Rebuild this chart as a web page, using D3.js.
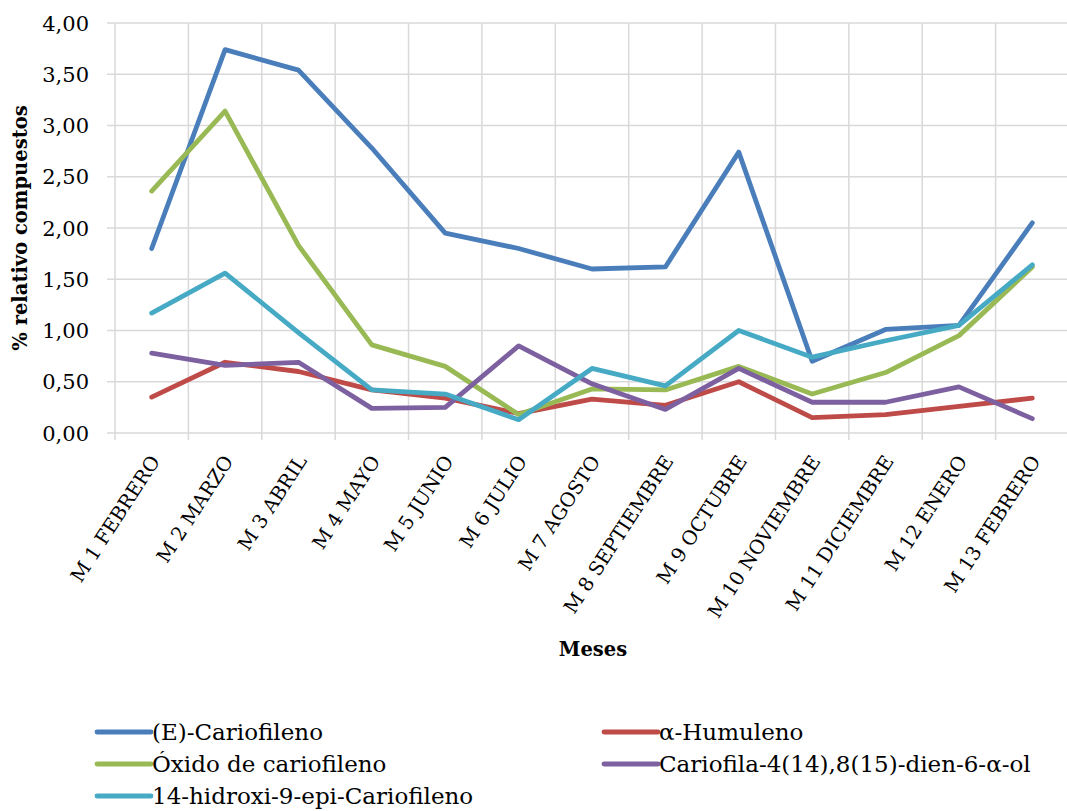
<!DOCTYPE html>
<html><head><meta charset="utf-8">
<script src="https://cdn.jsdelivr.net/npm/d3@7"></script>
<style>body{margin:0;background:#fff}svg{display:block}</style>
</head><body>
<svg id="c" width="1067" height="811"></svg>
<script>
const categories = ["M 1 FEBRERO","M 2 MARZO","M 3 ABRIL","M 4 MAYO","M 5 JUNIO","M 6 JULIO","M 7 AGOSTO","M 8 SEPTIEMBRE","M 9 OCTUBRE","M 10 NOVIEMBRE","M 11 DICIEMBRE","M 12 ENERO","M 13 FEBRERO"];
const seriesNames = ["(E)-Cariofileno","α-Humuleno","Óxido de cariofileno","Cariofila-4(14),8(15)-dien-6-α-ol","14-hidroxi-9-epi-Cariofileno"];
const cariofileno = [1.80,3.74,3.54,2.78,1.95,1.80,1.60,1.62,2.74,0.70,1.01,1.05,2.05];
const humuleno    = [0.35,0.69,0.60,0.42,0.34,0.19,0.33,0.27,0.50,0.15,0.18,0.26,0.34];
const oxido       = [2.36,3.14,1.83,0.86,0.65,0.18,0.43,0.42,0.65,0.38,0.59,0.95,1.62];
const cariofila   = [0.78,0.66,0.69,0.24,0.25,0.85,0.48,0.23,0.63,0.30,0.30,0.45,0.14];
const hidroxi     = [1.17,1.56,0.98,0.42,0.38,0.13,0.63,0.46,1.00,0.74,0.90,1.05,1.64];
const yTicks = [0,0.5,1,1.5,2,2.5,3,3.5,4];
const colors = ["#4a7ebb","#be4b48","#98b954","#7d60a0","#46aac5"];
const seriesValues = [cariofileno, humuleno, oxido, cariofila, hidroxi];

(function(){
const svg = d3.select("#c");
const pLeft = 115, pRight = 1069, pTop = 23, pBottom = 433;
const x = d3.scaleBand().domain(categories).range([pLeft, pRight]);
const y = d3.scaleLinear().domain([0,4]).range([pBottom, pTop]);
const grid = "#d9d9d9";
const serif = "'DejaVu Serif', serif";

svg.append("g").selectAll("line").data(yTicks).join("line")
  .attr("x1", pLeft - 8).attr("x2", pRight)
  .attr("y1", d => y(d)).attr("y2", d => y(d))
  .attr("stroke", grid).attr("stroke-width", 1.5);
const bounds = categories.map(c => x(c)).concat([pRight]);
svg.append("g").selectAll("line").data(bounds).join("line")
  .attr("x1", d => d).attr("x2", d => d)
  .attr("y1", pTop).attr("y2", pBottom + 7)
  .attr("stroke", grid).attr("stroke-width", 1.5);

const fmt = d => d3.format(".2f")(d).replace(".", ",");
svg.append("g").selectAll("text").data(yTicks).join("text")
  .attr("x", 89).attr("y", d => y(d)).attr("dy", "0.36em")
  .attr("text-anchor", "end")
  .style("font-family", serif).style("font-size", "21px")
  .attr("fill", "#000").text(fmt);

svg.append("g").selectAll("text").data(categories).join("text")
  .attr("transform", d => `translate(${x(d) + x.bandwidth()/2 + 9},${pBottom + 28}) rotate(-57)`)
  .attr("text-anchor", "end")
  .style("font-family", serif).style("font-size", "19.5px")
  .attr("fill", "#000").text(d => d);

svg.append("text")
  .attr("transform", `translate(27,228) rotate(-90)`)
  .attr("text-anchor", "middle")
  .style("font-family", serif).style("font-size", "19.5px").style("font-weight", "bold")
  .text("% relativo compuestos");
svg.append("text")
  .attr("x", 593).attr("y", 656).attr("text-anchor", "middle")
  .style("font-family", serif).style("font-size", "19.5px").style("font-weight", "bold")
  .text("Meses");

const line = d3.line().x((d,i) => x(categories[i]) + x.bandwidth()/2).y(d => y(d));
seriesValues.forEach((vals, k) => {
  svg.append("path").datum(vals)
    .attr("d", line).attr("fill", "none")
    .attr("stroke", colors[k]).attr("stroke-width", 4.8)
    .attr("stroke-linejoin", "round").attr("stroke-linecap", "round");
});

const legendPos = [[97,732],[604,732],[97,764],[604,764],[97,796]];
seriesNames.forEach((n, k) => {
  const [lx, ly] = legendPos[k];
  const g = svg.append("g").attr("transform", `translate(${lx},${ly})`);
  g.append("line").attr("x1", 0).attr("x2", 54).attr("y1", 0).attr("y2", 0)
    .attr("stroke", colors[k]).attr("stroke-width", 4.8).attr("stroke-linecap", "round");
  g.append("text").attr("x", 55).attr("y", 0).attr("dy", "0.36em")
    .style("font-family", serif).style("font-size", "23px")
    .text(n);
});
})();
</script>
</body></html>
